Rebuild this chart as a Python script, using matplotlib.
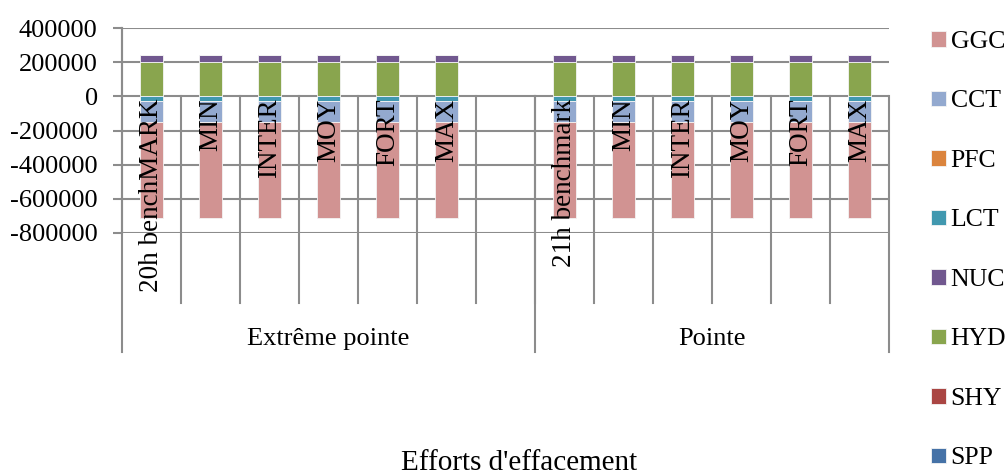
import numpy as np
import matplotlib.pyplot as plt
import matplotlib.transforms as mtransforms

plt.rcParams['font.family'] = ['Liberation Serif', 'DejaVu Serif']
plt.rcParams['axes.unicode_minus'] = False

# Categories (two-level axis)
categories = ['20h benchMARK', 'MIN', 'INTER', 'MOY', 'FORT', 'MAX', '',
              '21h benchmark', 'MIN', 'INTER', 'MOY', 'FORT', 'MAX']
groups = ['Extrême pointe', 'Pointe']
group_sizes = [7, 6]

# Series values (stacking order), nan for the empty slot
nan = np.nan
SPP = [0, 0, 0, 0, 0, 0, nan, 0, 0, 0, 0, 0, 0]
SHY = [0, 0, 0, 0, 0, 0, nan, 0, 0, 0, 0, 0, 0]
HYD = [200000, 200000, 200000, 200000, 200000, 200000, nan,
       200000, 200000, 200000, 200000, 200000, 200000]
NUC = [40000, 40000, 40000, 40000, 40000, 40000, nan,
       40000, 40000, 40000, 40000, 40000, 40000]
LCT = [-28000, -28000, -28000, -28000, -28000, -28000, nan,
       -28000, -28000, -28000, -28000, -28000, -28000]
PFC = [0, 0, 0, 0, 0, 0, nan, 0, 0, 0, 0, 0, 0]
CCT = [-125000, -125000, -125000, -125000, -125000, -125000, nan,
       -125000, -125000, -125000, -125000, -125000, -125000]
GGC = [-560000, -560000, -560000, -560000, -560000, -560000, nan,
       -560000, -560000, -560000, -560000, -560000, -560000]

series = [('SPP', SPP, '#4572A7'), ('SHY', SHY, '#AA4643'),
          ('HYD', HYD, '#89A54E'), ('NUC', NUC, '#71588F'),
          ('LCT', LCT, '#4198AF'), ('PFC', PFC, '#DB843D'),
          ('CCT', CCT, '#93A9CF'), ('GGC', GGC, '#D19392')]

fig = plt.figure(figsize=(10.08, 4.75), dpi=100)
ax = fig.add_axes([0.121, 0.5095, 0.761, 0.4315])

x = np.arange(len(categories))
pos_base = np.zeros(len(x))
neg_base = np.zeros(len(x))
handles = {}
for name, vals, col in series:
    v = np.array(vals, dtype=float)
    base = np.where(v >= 0, pos_base, neg_base)
    b = ax.bar(x, v, 0.4, bottom=base, color=col, edgecolor='#f4f4f4',
               linewidth=0.6, zorder=3, label=name)
    handles[name] = b
    vz = np.nan_to_num(v)
    pos_base = pos_base + np.where(vz > 0, vz, 0)
    neg_base = neg_base + np.where(vz < 0, vz, 0)

grid_col = '#8c8c8c'
ax.set_ylim(-800000, 400000)
ax.set_xlim(-0.5, len(categories) - 0.5)
ax.set_yticks(np.arange(-800000, 400001, 200000))
ax.yaxis.grid(True, color=grid_col, linewidth=1.5, zorder=1)
ax.set_xticks([])
for s in ['top', 'right', 'bottom']:
    ax.spines[s].set_visible(False)
ax.spines['left'].set_color(grid_col)
ax.spines['left'].set_linewidth(1.5)
ax.tick_params(axis='y', length=6.5, width=1.5, color=grid_col,
               labelsize=19, pad=11)

# multi-level category axis drawn below the zero line
trans = mtransforms.blended_transform_factory(ax.transData, ax.transAxes)
y0 = 0.6667
for i in range(1, len(categories)):
    ax.plot([i - 0.5, i - 0.5], [y0, -0.34], transform=trans, color=grid_col,
            lw=1.5, clip_on=False, zorder=2)
edges = np.concatenate([[0], np.cumsum(group_sizes)]) - 0.5
for e in edges:
    ax.plot([e, e], [y0 if e > -0.5 else 1.0, -0.58], transform=trans,
            color=grid_col, lw=1.5, clip_on=False, zorder=2)
for i, lab in enumerate(categories):
    ax.text(i, 0.655, lab, transform=trans, rotation=90, ha='center',
            va='top', fontsize=19.5, zorder=4)
for g, a, b in zip(groups, edges[:-1], edges[1:]):
    ax.text((a + b) / 2, -0.515, g, transform=trans, ha='center',
            va='center', fontsize=19)

fig.text(0.515, 0.025, "Efforts d'effacement", ha='center', va='center',
         fontsize=21)

order = ['GGC', 'CCT', 'PFC', 'LCT', 'NUC', 'HYD', 'SHY', 'SPP']
fig.legend([handles[n] for n in order], order, loc='upper left',
           bbox_to_anchor=(0.924, 0.935), frameon=False, fontsize=18.5,
           handlelength=0.55, handleheight=0.55, handletextpad=0.2,
           labelspacing=1.46, borderpad=0, borderaxespad=0)

fig.savefig('out.png', dpi=100)
